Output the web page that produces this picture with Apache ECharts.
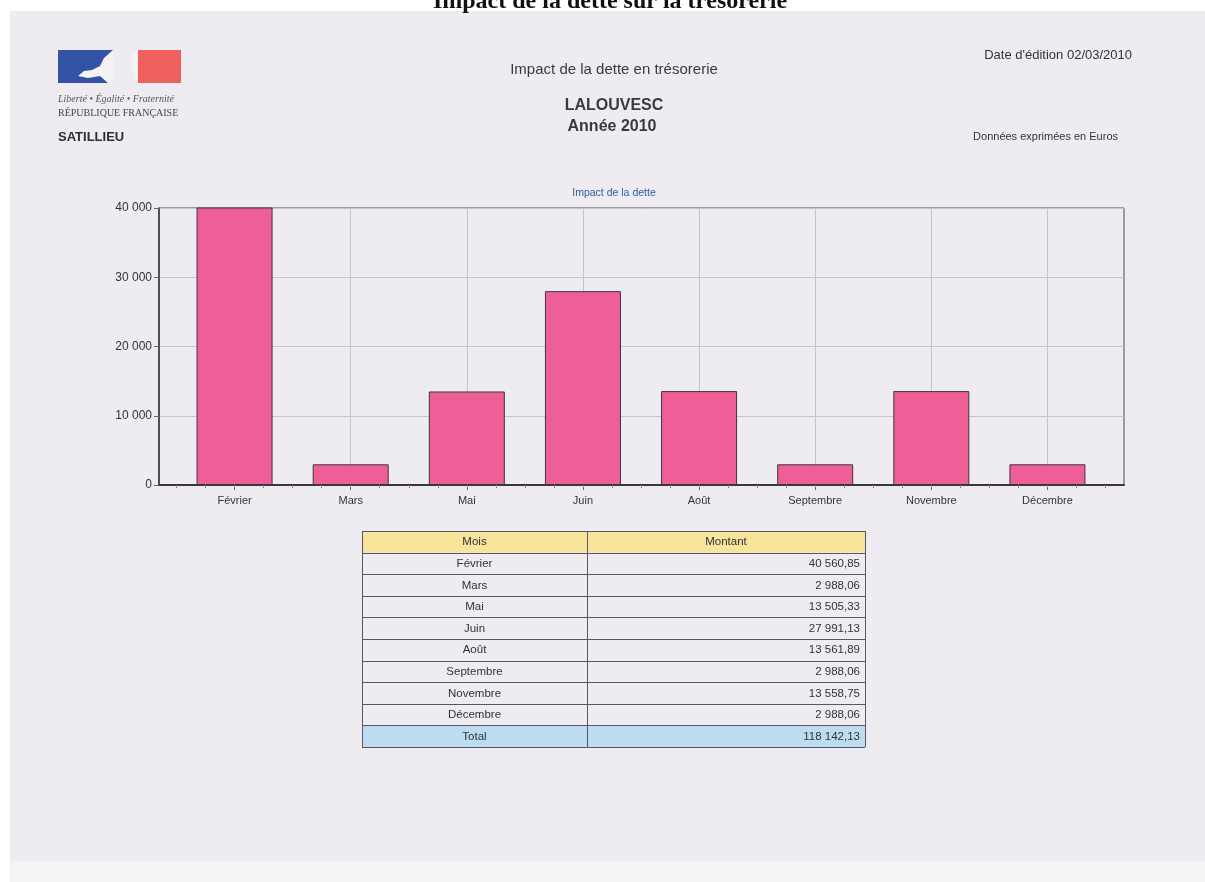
<!DOCTYPE html>
<html>
<head>
<meta charset="utf-8">
<script src="https://cdn.jsdelivr.net/npm/echarts@6/dist/echarts.min.js"></script>
<style>
html,body{margin:0;padding:0;background:#ffffff;}
#chart{width:1205px;height:882px;}
</style>
</head>
<body>
<div id="chart"></div>
<script>
// ---- data ----
const categories = ['Février', 'Mars', 'Mai', 'Juin', 'Août', 'Septembre', 'Novembre', 'Décembre'];
const amounts = [40560.85, 2988.06, 13505.33, 27991.13, 13561.89, 2988.06, 13558.75, 2988.06];
const yMin = 0, yMax = 40000, yInterval = 10000;
const tableHeaders = ['Mois', 'Montant'];
const totalLabel = 'Total';
const pageTitle = 'Impact de la dette sur la trésorerie';
const reportTitle = 'Impact de la dette en trésorerie';
const communeName = 'LALOUVESC';
const yearLabel = 'Année 2010';
const editionDate = "Date d'édition 02/03/2010";
const unitNote = 'Données exprimées en Euros';
const chartTitle = 'Impact de la dette';
const collectivity = 'SATILLIEU';

// ---- helpers ----
function groupThousands(s) { return s.replace(/\B(?=(\d{3})+(?!\d))/g, ' '); }
function fmtInt(v) { return groupThousands(String(Math.round(v))); }
function fmtDec(v) {
  const p = v.toFixed(2).split('.');
  return groupThousands(p[0]) + ',' + p[1];
}
const total = amounts.reduce((a, b) => a + b, 0);

const SANS = '"Liberation Sans", Arial, sans-serif';
const SERIF = '"Liberation Serif", "Times New Roman", serif';
const TXT = '#333333';
const LINE = '#5b556c';

function text(x, y, str, font, fill, align, base) {
  return {
    type: 'text', x: x, y: y, silent: true,
    style: { text: str, font: font, fill: fill || TXT, textAlign: align || 'left', textVerticalAlign: base || 'middle', textBaseline: base || 'middle' }
  };
}

// ---- table built from the arrays ----
const tLeft = 362, tRight = 865, tSplit = 587, tTop = 531, rowH = 21.6;
const tableRows = [tableHeaders].concat(categories.map((c, i) => [c, fmtDec(amounts[i])])).concat([[totalLabel, fmtDec(total)]]);
const tableEls = [];
const nRows = tableRows.length;
tableEls.push({ type: 'rect', silent: true, shape: { x: tLeft, y: tTop, width: tRight - tLeft, height: rowH }, style: { fill: '#f8e59c' } });
tableEls.push({ type: 'rect', silent: true, shape: { x: tLeft, y: tTop + rowH * (nRows - 1), width: tRight - tLeft, height: rowH }, style: { fill: '#bcdcf0' } });
for (let r = 0; r <= nRows; r++) {
  const y = Math.round(tTop + r * rowH) + 0.5;
  tableEls.push({ type: 'line', silent: true, shape: { x1: tLeft, y1: y, x2: tRight, y2: y }, style: { stroke: LINE, lineWidth: 1 } });
}
[tLeft, tSplit, tRight].forEach(x => {
  tableEls.push({ type: 'line', silent: true, shape: { x1: x + 0.5, y1: tTop, x2: x + 0.5, y2: tTop + nRows * rowH }, style: { stroke: LINE, lineWidth: 1 } });
});
tableRows.forEach((row, r) => {
  const cy = tTop + r * rowH + rowH / 2 + 0.5;
  tableEls.push(text((tLeft + tSplit) / 2, cy, row[0], '11.5px ' + SANS, TXT, 'center'));
  if (r === 0) tableEls.push(text((tSplit + tRight) / 2, cy, row[1], '11.5px ' + SANS, TXT, 'center'));
  else tableEls.push(text(tRight - 5, cy, row[1], '11.5px ' + SANS, TXT, 'right'));
});

// ---- header / logo ----
const headerEls = [
  { type: 'rect', silent: true, z: -10, shape: { x: 10, y: 11, width: 1195, height: 850 }, style: { fill: '#eeecf1' } },
  { type: 'rect', silent: true, z: -10, shape: { x: 10, y: 861, width: 1195, height: 21 }, style: { fill: '#f4f4f6' } },
  text(610, 14, pageTitle, 'bold 24px ' + SERIF, '#111111', 'center', 'bottom'),
  // logo
  { type: 'rect', silent: true, shape: { x: 58, y: 50, width: 55, height: 33 }, style: { fill: '#3553a6' } },
  { type: 'rect', silent: true, shape: { x: 138, y: 50, width: 43, height: 33 }, style: { fill: '#f0605f' } },
  { type: 'polygon', silent: true, shape: { points: [[113, 50], [104, 58], [100, 66], [92, 70], [84, 71], [78, 76], [88, 78], [100, 76], [108, 83], [113, 83]] }, style: { fill: '#f3f2f5' } },
  { type: 'polygon', silent: true, shape: { points: [[138, 50], [131, 56], [133, 62], [130, 67], [134, 71], [133, 77], [138, 83]] }, style: { fill: '#f3f2f5' } },
  text(58, 99, 'Liberté • Égalité • Fraternité', 'italic 10px ' + SERIF, '#555555', 'left'),
  text(58, 113, 'RÉPUBLIQUE FRANÇAISE', '10px ' + SERIF, '#444444', 'left'),
  text(58, 137, collectivity, 'bold 13px ' + SANS, '#2e2e2e', 'left'),
  text(614, 70, reportTitle, '15px ' + SANS, '#3a3a3a', 'center'),
  text(614, 106, communeName, 'bold 16px ' + SANS, '#3a3a3a', 'center'),
  text(612, 127, yearLabel, 'bold 16px ' + SANS, '#3a3a3a', 'center'),
  text(1132, 55, editionDate, '13px ' + SANS, '#333333', 'right'),
  text(1118, 137, unitNote, '11px ' + SANS, '#333333', 'right'),
  text(614, 193, chartTitle, '10.5px ' + SANS, '#2b5ea7', 'center')
];

const chart = echarts.init(document.getElementById('chart'), null, { renderer: 'canvas' });
const option = {
  backgroundColor: '#ffffff',
  animation: false,
  grid: [
    { left: 159, top: 208, width: 965, height: 277, show: true, borderColor: '#4d4759', borderWidth: 1, backgroundColor: 'transparent', containLabel: false },
    { left: 176.5, top: 208, width: 929, height: 277, containLabel: false }
  ],
  xAxis: [
    { gridIndex: 0, type: 'value', position: 'bottom', min: 0, max: 1, axisLine: { show: true, onZero: false, lineStyle: { color: '#3a3444', width: 2 } }, axisTick: { show: false }, axisLabel: { show: false }, splitLine: { show: false } },
    { gridIndex: 1, type: 'category', position: 'bottom', data: categories, boundaryGap: true,
      axisLine: { show: false }, axisTick: { show: true, alignWithLabel: true, length: 5, lineStyle: { color: '#6a6478' } },
      axisLabel: { fontSize: 11, color: TXT, margin: 10, fontFamily: SANS, interval: 0 }, splitLine: { show: false } },
    { gridIndex: 1, type: 'value', position: 'bottom', min: -0.5, max: 7.5, interval: 0.25, axisLine: { show: false }, axisTick: { show: true, length: 3, lineStyle: { color: '#8a8496' } }, axisLabel: { show: false }, splitLine: { show: false } }
  ],
  yAxis: [
    { gridIndex: 0, type: 'value', min: yMin, max: yMax, interval: yInterval,
      axisLine: { show: true, lineStyle: { color: '#3a3444', width: 1.5 } },
      axisTick: { show: true, length: 5, lineStyle: { color: '#6a6478' } },
      axisLabel: { fontSize: 12, color: TXT, margin: 7, fontFamily: SANS, formatter: v => fmtInt(v) },
      splitLine: { show: true, lineStyle: { color: '#c7c3cd', width: 1 } } },
    { gridIndex: 1, type: 'value', min: yMin, max: yMax, interval: yInterval, show: false }
  ],
  series: [
    { type: 'line', xAxisIndex: 1, yAxisIndex: 1, data: [], z: 0, silent: true,
      markLine: { silent: true, symbol: 'none', z: 1, label: { show: false },
        lineStyle: { color: '#c7c3cd', width: 1, type: 'solid' },
        data: categories.map(c => ({ xAxis: c })) } },
    { type: 'bar', xAxisIndex: 1, yAxisIndex: 1, data: amounts, barWidth: 76, z: 3,
      itemStyle: { color: '#ee5f97', borderColor: '#3c3444', borderWidth: 1 } }
  ],
  graphic: headerEls.concat(tableEls)
};
chart.setOption(option);
</script>
</body>
</html>
